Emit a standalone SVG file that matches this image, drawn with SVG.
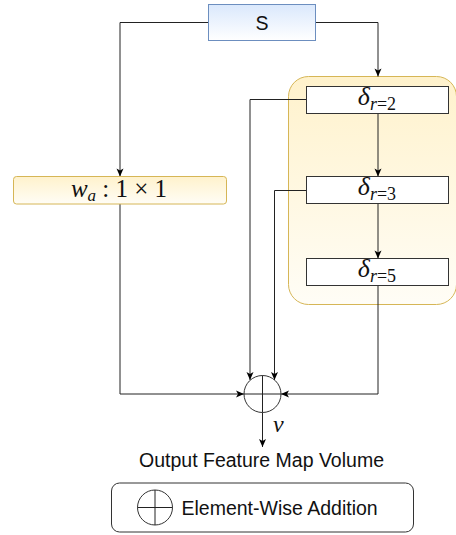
<svg xmlns="http://www.w3.org/2000/svg" width="456" height="535" viewBox="0 0 456 535">
<defs>
<linearGradient id="gBlue" x1="0" y1="0" x2="0" y2="1"><stop offset="0" stop-color="#dae8fc"/><stop offset="1" stop-color="#ffffff"/></linearGradient>
<linearGradient id="gYel" x1="0" y1="0" x2="0" y2="1"><stop offset="0" stop-color="#fff2cc"/><stop offset="1" stop-color="#fffdf6"/></linearGradient>
<marker id="arr" markerUnits="userSpaceOnUse" markerWidth="10" markerHeight="10" viewBox="0 0 10 10" refX="9" refY="5" orient="auto">
<path d="M1,1.5 L9,5 L1,8.5 L3,5 z" fill="#000"/>
</marker>
<style>
.ln{fill:none;stroke:#222;stroke-width:1}
.sans{font-family:"Liberation Sans",Arial,sans-serif;font-size:19.5px;fill:#111}
.math{font-family:"Liberation Serif","Times New Roman",serif;fill:#111}
.box{fill:#fff;stroke:#333;stroke-width:1}
</style>
</defs>
<g id="container">
<rect x="288.5" y="76.5" width="168" height="228" rx="20" fill="url(#gYel)" stroke="#d6b656"/>
</g>
<g id="connectors">
<path class="ln" d="M208.5,22.5 H120 V176.5" marker-end="url(#arr)"/>
<path class="ln" d="M315.5,22.5 H378 V76.5" marker-end="url(#arr)"/>
<path class="ln" d="M378,113.5 V176.5" marker-end="url(#arr)"/>
<path class="ln" d="M378,203.5 V258.5" marker-end="url(#arr)"/>
<path class="ln" d="M306.5,99.5 H250 V380" marker-end="url(#arr)"/>
<path class="ln" d="M306.5,190.5 H274.5 V380" marker-end="url(#arr)"/>
<path class="ln" d="M378,285.5 V394 H281" marker-end="url(#arr)"/>
<path class="ln" d="M120,204 V394 H244" marker-end="url(#arr)"/>
<path class="ln" d="M262.5,412.5 V447" marker-end="url(#arr)"/>
</g>
<g id="S">
<rect x="208.5" y="4.5" width="107" height="36" fill="url(#gBlue)" stroke="#6c8ebf"/>
<text class="sans" x="262" y="29.5" text-anchor="middle">S</text>
</g>
<g id="wa">
<rect x="13.5" y="176.5" width="213" height="27.5" rx="3" fill="url(#gYel)" stroke="#d6b656"/>
<text class="math" x="119" y="197" text-anchor="middle" font-size="25"><tspan font-style="italic">w</tspan><tspan font-style="italic" font-size="17" dy="4">a</tspan><tspan dy="-4"> : 1 × 1</tspan></text>
</g>
<g id="d2">
<rect class="box" x="306.5" y="86.5" width="142" height="27"/>
<text class="math" x="377" y="105" text-anchor="middle" font-size="26"><tspan font-style="italic">δ</tspan><tspan font-size="18" dy="5"><tspan font-style="italic">r</tspan>=2</tspan></text>
</g>
<g id="d3">
<rect class="box" x="306.5" y="176.5" width="142" height="27"/>
<text class="math" x="377" y="195" text-anchor="middle" font-size="26"><tspan font-style="italic">δ</tspan><tspan font-size="18" dy="5"><tspan font-style="italic">r</tspan>=3</tspan></text>
</g>
<g id="d5">
<rect class="box" x="306.5" y="258.5" width="142" height="27"/>
<text class="math" x="377" y="277" text-anchor="middle" font-size="26"><tspan font-style="italic">δ</tspan><tspan font-size="18" dy="5"><tspan font-style="italic">r</tspan>=5</tspan></text>
</g>
<g id="sum">
<circle cx="262.5" cy="394" r="18.5" fill="#fff" stroke="#333"/>
<path class="ln" d="M262.5,375.5 V412.5 M244,394 H281"/>
<text class="math" x="273" y="432" font-size="24" font-style="italic">ν</text>
</g>
<g id="output">
<text class="sans" x="261.5" y="467" text-anchor="middle">Output Feature Map Volume</text>
</g>
<g id="legend">
<rect x="111.5" y="483" width="302" height="49" rx="8" fill="#fff" stroke="#333"/>
<circle cx="155" cy="507.5" r="17.5" fill="#fff" stroke="#333"/>
<path class="ln" d="M155,490 V525 M137.5,507.5 H172.5"/>
<text class="sans" x="181.5" y="514.5">Element-Wise Addition</text>
</g>
</svg>
